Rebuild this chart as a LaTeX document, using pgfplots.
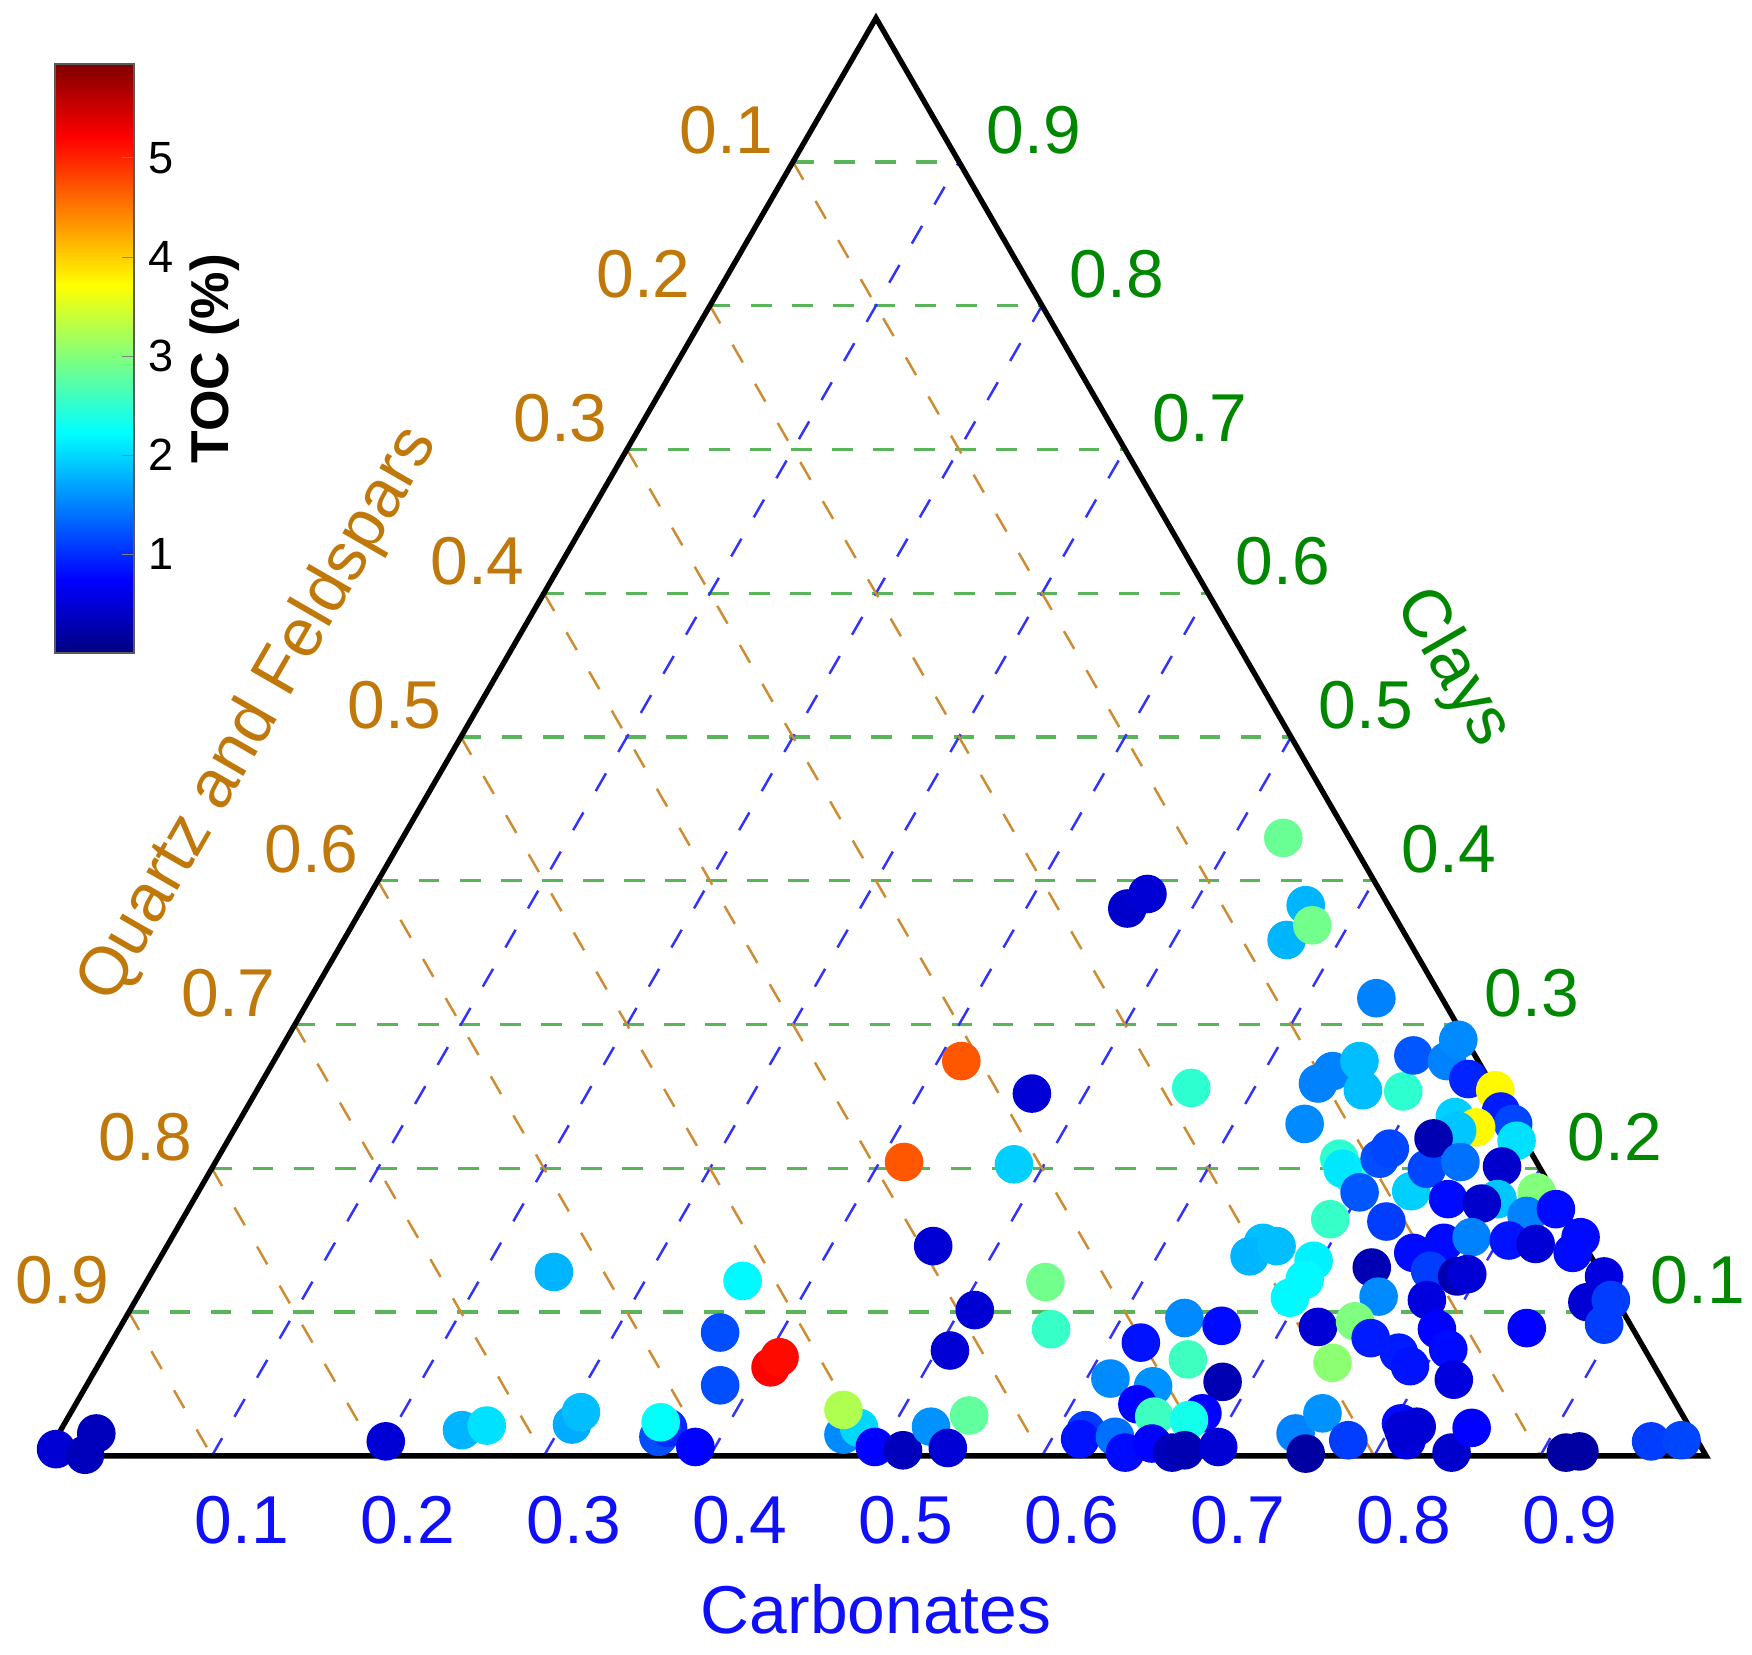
\documentclass[border=0pt]{standalone}
\usepackage{pgfplots}
\pgfplotsset{compat=1.18}
\usepackage{pgfplotstable}
\usepackage{fontspec}
\setmainfont{Liberation Sans}

\definecolor{qfbrown}{RGB}{192,120,10}
\definecolor{clgreen}{RGB}{0,135,0}
\definecolor{cablue}{RGB}{15,15,250}
\definecolor{gridgreen}{RGB}{90,180,90}
\definecolor{gridbrown}{RGB}{205,140,50}
\definecolor{gridblue}{RGB}{50,50,255}

% carbonates and clays fractions (quartz+feldspars = 1 - carb - clay), TOC in %
\pgfplotstableread{
carb clay toc
0.0038 0.0047 0.50
0.0232 0.0008 0.35
0.0226 0.0156 0.35
0.1997 0.0101 0.50
0.2417 0.0179 1.80
0.2550 0.0211 2.05
0.3060 0.0218 1.75
0.3071 0.0304 1.85
0.2421 0.1279 1.80
0.3623 0.0133 1.20
0.3650 0.0195 1.00
0.3586 0.0234 2.25
0.3881 0.0062 0.75
0.3588 0.1217 2.20
0.3632 0.0858 1.20
0.3816 0.0491 1.20
0.4057 0.0616 5.20
0.4076 0.0686 5.15
0.4147 0.2044 4.70
0.4817 0.2028 1.95
0.4615 0.1459 0.50
0.5088 0.1014 0.50
0.5079 0.0733 0.50
0.5416 0.1209 2.90
0.5614 0.0881 2.55
0.4730 0.0148 1.55
0.4801 0.0195 2.00
0.4644 0.0320 3.25
0.4962 0.0062 0.75
0.5143 0.0039 0.35
0.5230 0.0203 1.60
0.5421 0.0281 2.80
0.5405 0.0055 0.50
0.4141 0.2746 4.70
0.4679 0.2520 0.50
0.5619 0.2559 2.50
0.4610 0.3807 0.45
0.4681 0.3908 0.50
0.5304 0.4298 2.85
0.5673 0.3830 1.80
0.5679 0.3588 1.80
0.5783 0.3690 2.90
0.6201 0.0788 0.85
0.6378 0.0959 1.55
0.6629 0.0905 0.80
0.6543 0.0671 2.60
0.6143 0.0538 1.55
0.6427 0.0484 1.60
0.6830 0.0515 0.30
0.6395 0.0359 0.75
0.6539 0.0273 2.60
0.6818 0.0296 0.75
0.6760 0.0250 2.35
0.6174 0.0179 1.10
0.6171 0.0117 0.85
0.6373 0.0133 1.40
0.6489 0.0023 0.80
0.6619 0.0086 0.75
0.6772 0.0023 0.35
0.6839 0.0039 0.30
0.7030 0.0062 0.50
0.6590 0.1482 1.85
0.6556 0.1388 1.80
0.6683 0.1459 1.85
0.6957 0.1357 2.15
0.6969 0.1225 2.20
0.6943 0.1100 2.20
0.7331 0.1310 0.30
0.7473 0.1108 1.55
0.7214 0.0897 0.50
0.7417 0.0936 2.97
0.7570 0.0819 0.90
0.7790 0.0718 0.90
0.7904 0.0624 0.85
0.7426 0.0647 3.05
0.7449 0.0156 1.50
0.7580 0.0016 0.20
0.7541 0.0296 1.60
0.7790 0.0109 1.10
0.8049 0.0226 0.80
0.8141 0.0109 0.55
0.8455 0.0023 0.45
0.8087 0.0179 0.50
0.8155 0.0203 0.50
0.8490 0.0195 0.75
0.9144 0.0023 0.20
0.9221 0.0031 0.20
0.9618 0.0101 1.10
0.9797 0.0109 1.15
0.6422 0.3183 1.50
0.6412 0.2676 1.50
0.6367 0.2590 1.50
0.6539 0.2746 1.85
0.6661 0.2543 1.85
0.6908 0.2535 2.50
0.6844 0.2785 1.25
0.7066 0.2746 1.50
0.7060 0.2894 1.55
0.7257 0.2621 0.95
0.7458 0.2543 3.75
0.6427 0.2309 1.55
0.6757 0.2067 2.50
0.6897 0.1950 2.50
0.6812 0.1997 2.10
0.7000 0.2067 1.20
0.7026 0.2137 1.15
0.6996 0.1833 1.25
0.6913 0.1646 2.55
0.7259 0.1630 1.10
0.7303 0.1841 1.95
0.7319 0.1997 1.15
0.7308 0.2356 1.95
0.7566 0.2395 0.90
0.7683 0.2309 1.15
0.7762 0.2192 2.05
0.7472 0.2285 3.75
0.7369 0.2262 1.90
0.7254 0.2208 0.30
0.7498 0.2044 1.40
0.7764 0.2013 0.45
0.7553 0.1786 0.80
0.7850 0.1786 1.90
0.7771 0.1755 0.45
0.8063 0.1833 3.00
0.8084 0.1669 1.50
0.8237 0.1716 0.80
0.7530 0.1412 0.80
0.7678 0.1482 0.80
0.7827 0.1521 1.50
0.8062 0.1498 0.85
0.8236 0.1474 0.50
0.8490 0.1412 0.80
0.8483 0.1521 0.80
0.7694 0.1287 1.10
0.7876 0.1248 0.30
0.7929 0.1264 0.50
0.7776 0.1084 0.55
0.7938 0.0881 0.75
0.8076 0.0741 0.80
0.8215 0.0530 0.55
0.8475 0.0889 0.75
0.8761 0.1248 0.55
0.8750 0.1069 0.50
0.8884 0.1084 1.10
0.8929 0.0913 1.10
}\data

\begin{document}
\begin{tikzpicture}
\begin{axis}[
    scale only axis,
    width=15cm, height=14.168cm,
    xmin=-0.0276, xmax=1.0276,
    ymin=-0.1198, ymax=0.8769,
    hide axis,
    clip=false,
    colormap/jet,
    point meta min=0, point meta max=5.95,
    colorbar,
    colorbar/width=0.68cm,
    colorbar style={
        at={(parent axis.north west)}, anchor=north west,
        xshift=0.17cm, yshift=-0.545cm,
        height=5.05cm,
        ytick={1,2,3,4,5},
        ytick pos=right,
        yticklabel pos=right,
        tick align=inside,
        major tick length=3pt,
        /pgf/number format/assume math mode=true,
        yticklabel style={font=\fontsize{11}{12}\selectfont},
        ylabel={TOC (\%)},
        ylabel style={font=\fontsize{13}{15}\selectfont\bfseries, yshift=3pt},
        axis line style={gray!70!black, line width=0.5pt},
    },
]
\path (rel axis cs:0,0) rectangle (rel axis cs:1,1);
% clays grid (horizontal)
\draw[gridgreen, line width=0.8pt, dash pattern=on 5pt off 5pt]
  (0.05,0.0866) -- (0.95,0.0866)  (0.10,0.1732) -- (0.90,0.1732)
  (0.15,0.2598) -- (0.85,0.2598)  (0.20,0.3464) -- (0.80,0.3464)
  (0.25,0.4330) -- (0.75,0.4330)  (0.30,0.5196) -- (0.70,0.5196)
  (0.35,0.6062) -- (0.65,0.6062)  (0.40,0.6928) -- (0.60,0.6928)
  (0.45,0.7794) -- (0.55,0.7794);
% carbonates grid
\draw[gridblue, line width=0.6pt, dash pattern=on 5pt off 6pt]
  (0.1,0) -- (0.55,0.7794)  (0.2,0) -- (0.60,0.6928)
  (0.3,0) -- (0.65,0.6062)  (0.4,0) -- (0.70,0.5196)
  (0.5,0) -- (0.75,0.4330)  (0.6,0) -- (0.80,0.3464)
  (0.7,0) -- (0.85,0.2598)  (0.8,0) -- (0.90,0.1732)
  (0.9,0) -- (0.95,0.0866);
% quartz and feldspars grid
\draw[gridbrown, line width=0.6pt, dash pattern=on 5pt off 6pt]
  (0.05,0.0866) -- (0.1,0)  (0.10,0.1732) -- (0.2,0)
  (0.15,0.2598) -- (0.3,0)  (0.20,0.3464) -- (0.4,0)
  (0.25,0.4330) -- (0.5,0)  (0.30,0.5196) -- (0.6,0)
  (0.35,0.6062) -- (0.7,0)  (0.40,0.6928) -- (0.8,0)
  (0.45,0.7794) -- (0.9,0);
% triangle
\draw[black, line width=1.3pt, line join=miter] (0,0) -- (1,0) -- (0.5,0.8660254) -- cycle;

\addplot[scatter, only marks, mark=*, mark size=4.5pt, point meta=explicit,
    scatter/use mapped color={draw=mapped color, fill=mapped color}]
  table[x expr=\thisrow{carb}+0.5*\thisrow{clay},
        y expr=0.8660254*\thisrow{clay}, meta=toc] {\data};

% tick labels
\begin{scope}[every node/.style={font=\fontsize{16.5}{18}\selectfont, inner sep=0pt}]
\node[cablue] at (0.118,-0.0385) {0.1};
\node[cablue] at (0.218,-0.0385) {0.2};
\node[cablue] at (0.318,-0.0385) {0.3};
\node[cablue] at (0.418,-0.0385) {0.4};
\node[cablue] at (0.518,-0.0385) {0.5};
\node[cablue] at (0.618,-0.0385) {0.6};
\node[cablue] at (0.718,-0.0385) {0.7};
\node[cablue] at (0.818,-0.0385) {0.8};
\node[cablue] at (0.918,-0.0385) {0.9};
\node[clgreen] at (0.995,0.1056) {0.1};
\node[clgreen] at (0.945,0.1922) {0.2};
\node[clgreen] at (0.895,0.2788) {0.3};
\node[clgreen] at (0.845,0.3654) {0.4};
\node[clgreen] at (0.795,0.4520) {0.5};
\node[clgreen] at (0.745,0.5386) {0.6};
\node[clgreen] at (0.695,0.6252) {0.7};
\node[clgreen] at (0.645,0.7118) {0.8};
\node[clgreen] at (0.595,0.7984) {0.9};
\node[qfbrown] at (0.410,0.7984) {0.1};
\node[qfbrown] at (0.360,0.7118) {0.2};
\node[qfbrown] at (0.310,0.6252) {0.3};
\node[qfbrown] at (0.260,0.5386) {0.4};
\node[qfbrown] at (0.210,0.4520) {0.5};
\node[qfbrown] at (0.160,0.3654) {0.6};
\node[qfbrown] at (0.110,0.2788) {0.7};
\node[qfbrown] at (0.060,0.1922) {0.8};
\node[qfbrown] at (0.010,0.1056) {0.9};
\node[cablue] at (0.5,-0.0922) {Carbonates};
\node[qfbrown, rotate=60] at (0.1285,0.4462) {Quartz and Feldspars};
\node[clgreen, rotate=-60] at (0.8472,0.4744) {Clays};
\end{scope}
\end{axis}
\end{tikzpicture}
\end{document}
